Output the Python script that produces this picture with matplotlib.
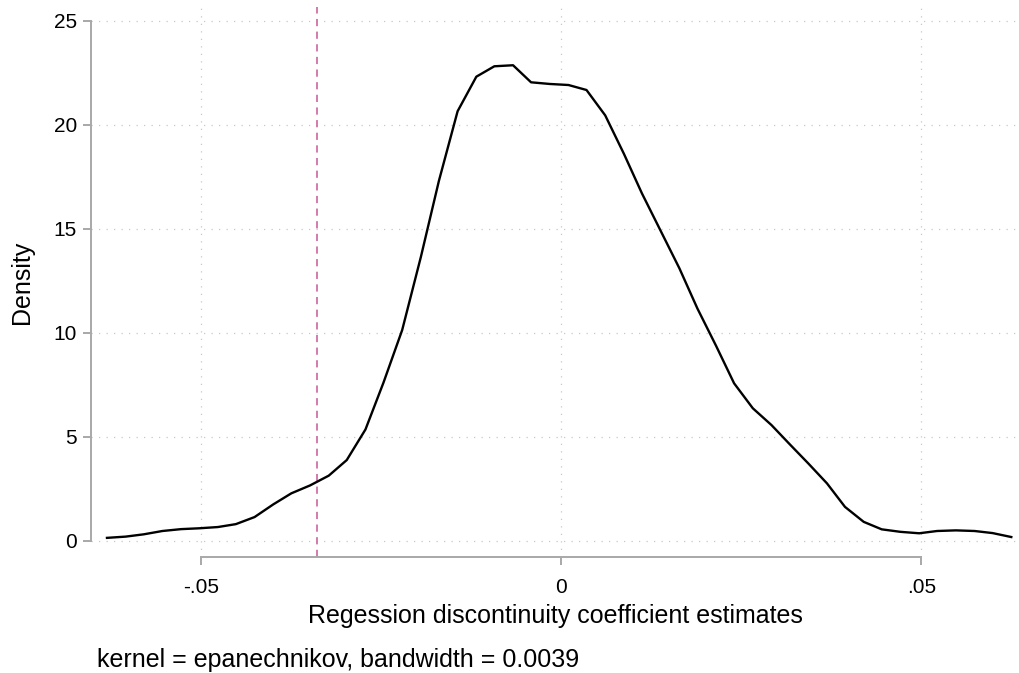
import numpy as np
import matplotlib
matplotlib.use("Agg")
import matplotlib.pyplot as plt

plt.rcParams['font.family'] = ['Liberation Sans', 'DejaVu Sans']

# kdensity evaluation points and density values
coef = [-0.0631, -0.0605, -0.0580, -0.0554, -0.0528, -0.0503, -0.0477, -0.0452,
        -0.0426, -0.0400, -0.0375, -0.0349, -0.0323, -0.0298, -0.0272, -0.0247,
        -0.0221, -0.0195, -0.0170, -0.0144, -0.0118, -0.0093, -0.0067, -0.0042,
        -0.0016, 0.0010, 0.0035, 0.0061, 0.0087, 0.0112, 0.0138, 0.0164,
        0.0189, 0.0215, 0.0240, 0.0266, 0.0292, 0.0317, 0.0343, 0.0369,
        0.0394, 0.0420, 0.0445, 0.0471, 0.0497, 0.0522, 0.0548, 0.0574,
        0.0599, 0.0625]
density = [0.14, 0.20, 0.31, 0.47, 0.56, 0.60, 0.66, 0.80,
           1.14, 1.75, 2.28, 2.66, 3.13, 3.88, 5.35, 7.6,
           10.13, 13.65, 17.3, 20.65, 22.31, 22.81, 22.86, 22.04,
           21.96, 21.91, 21.67, 20.45, 18.6, 16.7, 14.9, 13.1,
           11.17, 9.37, 7.57, 6.37, 5.56, 4.65, 3.72, 2.76,
           1.63, 0.91, 0.55, 0.43, 0.36, 0.47, 0.50, 0.47,
           0.37, 0.18]
ref_line = -0.0339  # observed estimate
xticks = [-0.05, 0, 0.05]
xticklabels = ['-.05', '0', '.05']
yticks = [0, 5, 10, 15, 20, 25]

fig = plt.figure(figsize=(10.2, 6.73), dpi=100)
ax = fig.add_axes([91 / 1020, 1 - 557 / 673, 929 / 1020, 550 / 673])

ax.plot(coef, density, color='black', lw=1.7, zorder=3)
ax.axvline(ref_line, color='#d071a6', lw=1.3, dashes=(4, 3), zorder=2)

ax.set_xlim(-0.06532, 0.06371)
ax.set_ylim(-0.78, 25.66)
ax.set_xticks(xticks)
ax.set_xticklabels(xticklabels)
ax.set_yticks(yticks)
ax.grid(True, color='#c8c8c8', linestyle=(0, (1, 5)), lw=0.9)
ax.set_axisbelow(True)

for s in ['top', 'right']:
    ax.spines[s].set_visible(False)
for s in ['left', 'bottom']:
    ax.spines[s].set_color('#a8a8a8')
    ax.spines[s].set_linewidth(1.4)
ax.spines['left'].set_bounds(0, 25)
ax.spines['bottom'].set_bounds(-0.05, 0.05)
ax.tick_params(axis='both', colors='#a8a8a8', length=6, width=1.4,
               labelsize=15, labelcolor='black')
ax.tick_params(axis='x', pad=9)
ax.tick_params(axis='y', pad=4)

ax.set_xlabel('Regession discontinuity coefficient estimates', fontsize=18, labelpad=5)
ax.set_ylabel('Density', fontsize=18, labelpad=14)
fig.text(97 / 1020, 1 - 660 / 673, 'kernel = epanechnikov, bandwidth = 0.0039',
         fontsize=18, va='center', ha='left')

fig.savefig('out.png', dpi=100)
